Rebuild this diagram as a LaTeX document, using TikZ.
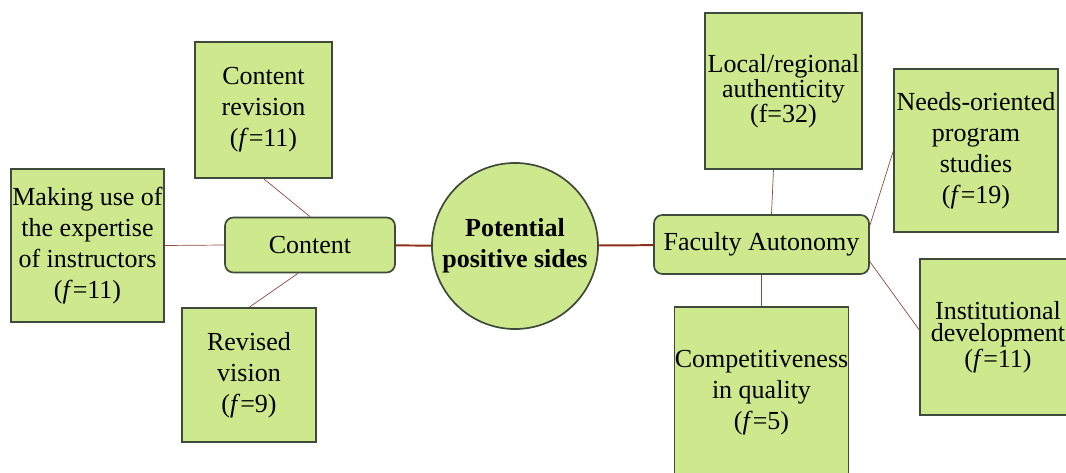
\documentclass[tikz,border=0pt]{standalone}
\usepackage{fontspec}
\setmainfont{Liberation Serif}
\newfontfamily\timesface{Liberation Serif}
\definecolor{leaf}{HTML}{CDE88D}
\definecolor{rim}{HTML}{3E4A3A}
\definecolor{twig}{HTML}{8E4A3C}
\definecolor{stem}{HTML}{8B2E14}

\begin{document}
\begin{tikzpicture}[x=0.025cm, y=-0.025cm,
    every node/.style={font=\timesface\fontsize{18.5pt}{22pt}\selectfont, align=center, inner sep=0pt},
    leafbox/.style={draw=rim, fill=leaf, line width=0.8pt},
    hubbox/.style={leafbox, rounded corners=6pt, line width=1.2pt},
    tight/.style={font=\timesface\fontsize{18.5pt}{16pt}\selectfont},
    twigline/.style={draw=twig, line width=0.5pt},
    stemline/.style={draw=stem, line width=1.4pt}]

\useasboundingbox (0, 0) rectangle (1066, 473);

% centre
\node[draw=rim, fill=leaf, line width=1.2pt, circle, minimum size=4.15cm] (core) at (515, 246)
    {\textbf{Potential}\\\textbf{positive sides}};

% left hub
\node[hubbox, minimum width=4.25cm, minimum height=1.375cm] (content) at (310, 245) {Content};
\node[leafbox, minimum width=3.425cm, minimum height=3.4cm] (crev) at (263.5, 110)
    {Content\\revision\\(\textit{f}=11)};
\node[leafbox, minimum width=3.825cm, minimum height=3.825cm] (expert) at (87.5, 245.5)
    {Making use of\\the expertise\\of instructors\\(\textit{f}=11)};
\node[leafbox, minimum width=3.35cm, minimum height=3.35cm] (vision) at (249, 375)
    {Revised\\vision\\(\textit{f}=9)};

% right hub
\node[hubbox, minimum width=5.375cm, minimum height=1.475cm] (faculty) at (761.5, 244.5) {Faculty Autonomy};
\node[leafbox, tight, minimum width=3.925cm, minimum height=3.9cm] (local) at (783.5, 91)
    {Local/regional\\authenticity\\(f=32)};
\node[leafbox, minimum width=4.1cm, minimum height=4.075cm] (needs) at (976, 150.5)
    {Needs-oriented\\program\\studies\\(\textit{f}=19)};
\node[leafbox, tight, minimum width=3.9cm, minimum height=3.9cm] (inst) at (998, 337)
    {Institutional\\development\\(\textit{f}=11)};
\node[leafbox, minimum width=4.275cm, minimum height=4.3cm] (compet) at (761.5, 393)
    {Competitiveness\\in quality\\(\textit{f}=5)};

\draw[stemline] (content) -- (core);
\draw[stemline] (core) -- (faculty);

\draw[twigline] (crev.south) -- (content.north);
\draw[twigline] (expert.east) -- (content.west);
\draw[twigline] (vision.north) -- ([xshift=-0.3cm]content.south);

\draw[twigline] ([xshift=-0.25cm]local.south) -- ([xshift=0.25cm]faculty.north);
\draw[twigline] (faculty.10) -- (needs.west);
\draw[twigline] (faculty.-9) -- (inst.175);
\draw[twigline] (faculty.south) -- (compet.north);

\end{tikzpicture}
\end{document}
